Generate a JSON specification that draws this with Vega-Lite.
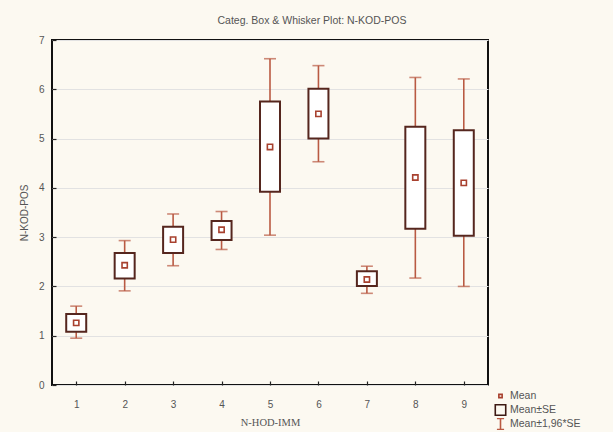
{
  "$schema": "https://vega.github.io/schema/vega-lite/v6.json",
  "width": 436,
  "height": 345,
  "autosize": {"type": "none"},
  "padding": {"left": 52, "top": 40, "right": 125, "bottom": 47},
  "background": "#fcf9f1",
  "title": {"text": "Categ. Box & Whisker Plot: N-KOD-POS", "font": "Liberation Sans", "fontSize": 10.5, "fontWeight": "normal", "color": "#555555", "anchor": "middle", "dx": 42, "offset": 9},
  "datasets": {
    "stats": [
      {"grp": "1", "mean": 1.26, "se_lo": 1.08, "se_hi": 1.44, "ci_lo": 0.95, "ci_hi": 1.60},
      {"grp": "2", "mean": 2.43, "se_lo": 2.16, "se_hi": 2.68, "ci_lo": 1.91, "ci_hi": 2.93},
      {"grp": "3", "mean": 2.95, "se_lo": 2.68, "se_hi": 3.21, "ci_lo": 2.42, "ci_hi": 3.47},
      {"grp": "4", "mean": 3.15, "se_lo": 2.94, "se_hi": 3.33, "ci_lo": 2.75, "ci_hi": 3.52},
      {"grp": "5", "mean": 4.83, "se_lo": 3.92, "se_hi": 5.75, "ci_lo": 3.04, "ci_hi": 6.62},
      {"grp": "6", "mean": 5.50, "se_lo": 5.00, "se_hi": 6.01, "ci_lo": 4.53, "ci_hi": 6.48},
      {"grp": "7", "mean": 2.14, "se_lo": 2.01, "se_hi": 2.31, "ci_lo": 1.86, "ci_hi": 2.41},
      {"grp": "8", "mean": 4.21, "se_lo": 3.17, "se_hi": 5.24, "ci_lo": 2.17, "ci_hi": 6.24},
      {"grp": "9", "mean": 4.10, "se_lo": 3.03, "se_hi": 5.17, "ci_lo": 2.00, "ci_hi": 6.21}
    ]
  },
  "data": {"name": "stats"},
  "encoding": {
    "x": {"field": "grp", "type": "ordinal", "scale": {"type": "point", "padding": 0.5},
      "axis": {"labelAngle": 0, "title": "N-HOD-IMM", "titleFont": "Liberation Serif", "titleFontSize": 10.5, "titlePadding": 8, "labelPadding": 18}}
  },
  "layer": [
    {
      "mark": {"type": "rule", "color": "#b95a43", "strokeWidth": 1.6},
      "encoding": {
        "y": {"field": "ci_lo", "type": "quantitative", "scale": {"domain": [0, 7], "nice": false},
          "axis": {"values": [0, 1, 2, 3, 4, 5, 6, 7], "title": "N-KOD-POS", "grid": true, "gridColor": "#e2e2e2", "gridWidth": 1.2, "labelPadding": 12, "titlePadding": 9}},
        "y2": {"field": "ci_hi"}
      }
    },
    {
      "mark": {"type": "tick", "color": "#b95a43", "size": 12, "thickness": 1.6},
      "encoding": {"y": {"field": "ci_lo", "type": "quantitative"}}
    },
    {
      "mark": {"type": "tick", "color": "#b95a43", "size": 12, "thickness": 1.6},
      "encoding": {"y": {"field": "ci_hi", "type": "quantitative"}}
    },
    {
      "mark": {"type": "bar", "fill": "white", "stroke": "#55261e", "strokeWidth": 2, "size": 20},
      "encoding": {
        "y": {"field": "se_lo", "type": "quantitative"},
        "y2": {"field": "se_hi"}
      }
    },
    {
      "mark": {"type": "point", "shape": "square", "size": 28, "filled": false, "color": "#a8412f", "strokeWidth": 1.6, "opacity": 1},
      "encoding": {"y": {"field": "mean", "type": "quantitative"}}
    },
    {
      "data": {"values": [{"stat": "Mean"}, {"stat": "Mean±SE"}, {"stat": "Mean±1,96*SE"}]},
      "mark": {"type": "point", "filled": false, "opacity": 0},
      "encoding": {
        "x": null,
        "color": {"field": "stat", "type": "nominal",
          "scale": {"domain": ["Mean", "Mean±SE", "Mean±1,96*SE"], "range": ["#a8412f", "#3d1a14", "#b95a43"]},
          "legend": {"title": null, "orient": "none", "legendX": 442, "legendY": 350, "symbolSize": 121, "symbolStrokeWidth": 1.6, "labelFont": "Liberation Sans", "labelFontSize": 10.5, "labelColor": "#555555", "labelOffset": 3, "rowPadding": 2, "clipHeight": 12,
            "encode": {"symbols": {"update": {"opacity": {"value": 1}, "strokeOpacity": {"value": 1}}}}}},
        "shape": {"field": "stat", "type": "nominal",
          "scale": {"domain": ["Mean", "Mean±SE", "Mean±1,96*SE"], "range": ["M-0.3,-0.3H0.3V0.3H-0.3Z", "M-0.95,-0.95H0.95V0.95H-0.95Z", "M-0.65,-1H0.65M0,-1V1M-0.65,1H0.65"]}}
      }
    }
  ],
  "config": {
    "font": "Liberation Sans",
    "view": {"stroke": "#111111", "strokeWidth": 2, "fill": "white"},
    "axis": {"labelFont": "Liberation Sans", "labelFontSize": 10, "labelColor": "#555555", "titleFont": "Liberation Sans", "titleFontSize": 10, "titleFontWeight": "normal", "titleColor": "#555555", "domain": false, "tickColor": "#222222", "tickSize": -4, "tickWidth": 1.2}
  }
}
